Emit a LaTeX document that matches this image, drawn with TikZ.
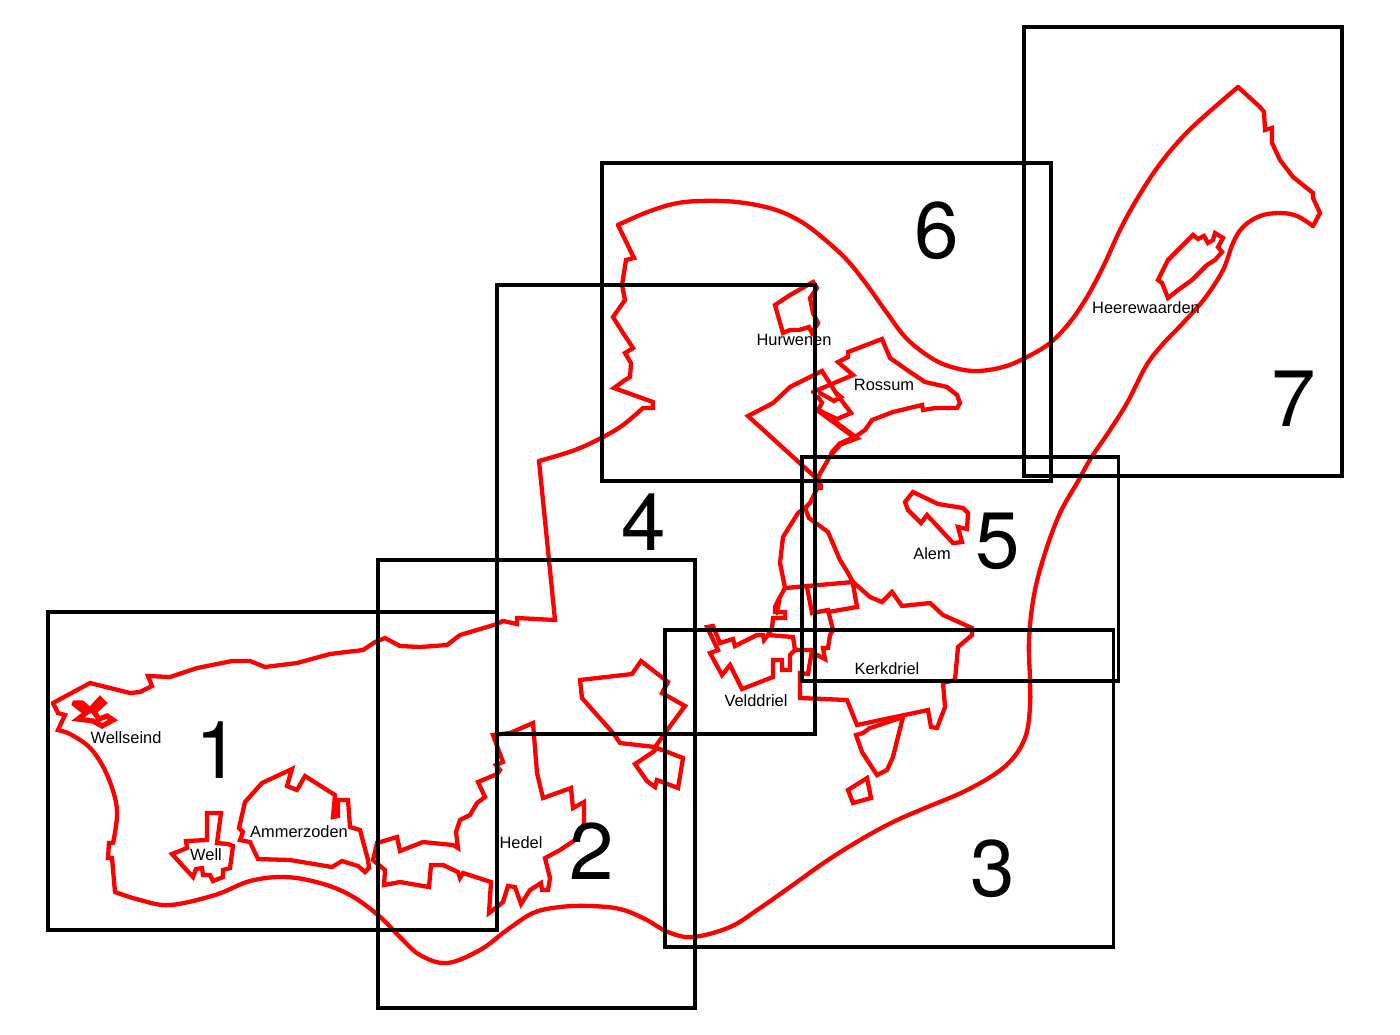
\documentclass[tikz,border=0pt]{standalone}
\usepackage{fontspec}
\setmainfont{Liberation Sans}
\newfontfamily\numfont{TeX Gyre Heros}
\begin{document}
\begin{tikzpicture}[x=0.5pt,y=-0.5pt,
  red line/.style={draw=red,line width=2.15pt,line join=miter,miter limit=3,line cap=round},
  sheet/.style={draw=black,line width=1.55pt},
  place/.style={inner sep=0pt,font=\fontsize{8.2}{10}\selectfont},
  sheetnum/.style={inner sep=0pt,font=\numfont\fontsize{40}{44}\selectfont}]
\useasboundingbox[fill=white] (0,0) rectangle (1400,1034);
% outer dike outline
\draw[red line] (53,703) -- (90,683) -- (130,693) -- (140,692) -- (152,686) -- (148,676) -- (170,677) -- (197,668) -- (232,661) -- (250,661) -- (265,667) -- (297,663) -- (330,654) -- (363,650) -- (375,642) -- (385,638) -- (400,646) -- (420,647) -- (447,645) -- (460,635) -- (497,624) -- (503,621) -- (517,624) -- (517,618) -- (555,620) -- (539,461);
\draw[red line] plot[smooth,tension=.6] coordinates {(539,461) (575,450) (603,437) (623,425) (643,408)} -- (653,408) -- (653,402) -- (614,388) -- (625,380) -- (630,377) -- (631,363) -- (625,353) -- (633,348) -- (623,333) -- (613,317) -- (625,300) -- (622,285) -- (626,260) -- (634,258) -- (618,225);
\draw[red line] plot[smooth,tension=.6] coordinates {(618,225) (645,213) (673,204) (700,201) (737,202) (773,209) (800,221) (823,238) (847,260) (867,285) (887,313) (907,339) (933,359) (955,368) (977,371) (1003,367) (1025,358) (1050,343) (1070,322) (1087,297) (1103,267) (1120,230) (1137,199) (1157,168) (1178,142) (1200,120) (1238,87)};
\draw[red line] (1238,87) -- (1260,107) -- (1264,112) -- (1265,130) -- (1272,128) -- (1272,143) -- (1280,160) -- (1293,177) -- (1313,193) -- (1313,198) -- (1320,213) -- (1313,226);
\draw[red line] plot[smooth,tension=.6] coordinates {(1313,226) (1297,216) (1280,213) (1260,216) (1243,227) (1233,243) (1223,270) (1205,298) (1183,323) (1162,345) (1146,366) (1127,403) (1108,433) (1091,458) (1077,483) (1060,513) (1045,553) (1034,595) (1029,640) (1030,680) (1030,707) (1026,735) (1014,757) (995,774) (963,792) (925,808) (893,822) (860,840) (825,862) (790,887) (760,908) (730,927) (693,937) (668,932) (645,919) (620,909) (590,906) (560,907) (533,913) (507,930) (480,950) (447,963) (420,955) (400,937) (378,915) (350,895) (320,883) (285,877) (250,881) (215,895) (170,905) (140,900) (115,892)};
\draw[red line] (115,892) -- (112,858) -- (108,858) -- (109,843) -- (113,843);
\draw[red line] plot[smooth,tension=.6] coordinates {(113,843) (117,810) (108,777) (92,750) (72,735) (58,730)} -- (65,715) -- (58,713) -- (53,703);
% Wellseind
\draw[red line,line width=2.6pt] (73,703) -- (82,703) -- (90,710) -- (100,699) -- (104,703) -- (94,712) -- (99,719) -- (107,716) -- (113,720) -- (102,726) -- (93,721) -- (78,719) -- (86,713) -- cycle;
% Well
\draw[red line] (172,854) -- (187,848) -- (186,841) -- (207,840) -- (207,813) -- (221,813) -- (217,843) -- (228,844) -- (233,846) -- (230,868) -- (223,870) -- (223,877) -- (213,881) -- (210,875) -- (203,875) -- (202,868) -- (196,869) -- (193,877) -- cycle;
% Ammerzoden
\draw[red line] (239,828) -- (245,802) -- (262,783) -- (292,769) -- (287,786) -- (297,790) -- (305,776) -- (335,795) -- (333,817) -- (338,816) -- (338,800) -- (348,800) -- (350,827) -- (360,830) -- (368,860) -- (369,868) -- (365,872) -- (358,866) -- (342,861) -- (332,867) -- (290,860) -- (258,859) -- (250,842) -- (240,840) -- (243,832) -- cycle;
% Hedel
\draw[red line] (493,735) -- (510,733) -- (533,723) -- (537,773) -- (543,798) -- (571,788) -- (573,808) -- (584,802) -- (584,823) -- (578,838) -- (560,850) -- (545,858) -- (550,878) -- (548,890) -- (542,890) -- (541,883) -- (530,890) -- (521,904) -- (515,887) -- (508,886) -- (503,902) -- (497,907) -- (489,913) -- (491,882) -- (463,873) -- (460,878) -- (458,872) -- (443,865) -- (431,865) -- (429,887) -- (400,882) -- (384,885) -- (385,870) -- (373,860) -- (377,843) -- (397,837) -- (400,851) -- (423,842) -- (453,845) -- (458,848) -- (456,832) -- (460,820) -- (470,815) -- (477,803) -- (485,797) -- (478,782) -- (497,774) -- (500,770) -- (496,765) -- (503,762) -- cycle;
% polygons in sheet 4
\draw[red line] (580,680) -- (632,674) -- (641,661) -- (668,682) -- (662,693) -- (685,706) -- (665,733) -- (655,747) -- (620,743) -- (613,733) -- (582,698) -- cycle;
\draw[red line] (653,752) -- (635,764) -- (647,781) -- (655,787) -- (657,780) -- (678,788) -- (683,758) -- (657,748) -- cycle;
% Velddriel
\draw[red line] (707,627) -- (713,626) -- (720,643) -- (733,639) -- (735,646) -- (757,635) -- (763,635) -- (764,640) -- (768,635) -- (793,637) -- (795,650) -- (790,655) -- (790,670) -- (782,670) -- (782,660) -- (773,660) -- (773,677) -- (742,689) -- (730,665) -- (722,675) -- (710,653) -- (718,650) -- cycle;
% Kerkdriel
\draw[red line] (768,635) -- (772,628) -- (773,618) -- (785,618) -- (785,612) -- (775,612) -- (775,607) -- (780,597) -- (785,588) -- (853,582) -- (870,597) -- (882,602) -- (892,592) -- (902,606) -- (930,603) -- (943,615) -- (972,628) -- (972,635) -- (958,647) -- (955,680) -- (943,683) -- (945,707) -- (937,728) -- (931,727) -- (928,710) -- (857,725) -- (847,700) -- (800,698) -- (800,673) -- (808,674) -- (812,650) -- (795,650);
\draw[red line,line width=1.6pt] (777,614) -- (780,600);
\draw[red line] (807,587) -- (812,613) -- (828,610) -- (833,630) -- (830,635) -- (828,648) -- (823,648) -- (825,659) -- (813,653) -- (812,650);
\draw[red line] (853,584) -- (857,607) -- (828,612);
% north loop to Rossum
\draw[red line] (785,588) -- (780,563) -- (783,537) -- (798,513) -- (805,508) -- (810,503) -- (820,483) -- (818,477) -- (832,453) -- (843,442) -- (855,437) -- (865,430) -- (872,420) -- (893,412) -- (922,405) -- (923,410) -- (935,408) -- (945,408) -- (957,408) -- (960,403) -- (957,395) -- (947,387) -- (925,382) -- (910,372) -- (890,358) -- (882,339) -- (848,352) -- (848,357) -- (838,362) -- (853,375) -- (813,392);
\draw[red line] (805,508) -- (809,518) -- (828,532) -- (840,560) -- (848,573) -- (853,582);
% Rossum
\draw[red line] (815,477) -- (748,416) -- (773,403) -- (790,387) -- (822,371) -- (836,393) -- (841,397) -- (834,401) -- (820,393);
\draw[red line] (836,393) -- (851,413) -- (837,419) -- (818,410) -- (822,403) -- (818,397);
\draw[red line,line width=2.8pt] (818,410) -- (856,438) -- (840,444) -- (832,453);
\fill[red] (817,484) rectangle (823,490);
% Hurwenen
\draw[red line] (775,305) -- (790,295) -- (813,282) -- (817,288) -- (810,298) -- (813,313) -- (818,323) -- (812,333) -- (809,327) -- (799,330) -- (790,330) -- (783,333) -- cycle;
% lens, small square, Alem, Heerewaarden
\draw[red line] (856,735) -- (863,733) -- (870,728) -- (903,717) -- (893,757) -- (887,770) -- (877,775) -- (862,752) -- cycle;
\draw[red line] (848,790) -- (867,778) -- (871,798) -- (853,803) -- cycle;
\draw[red line] (905,502) -- (913,492) -- (938,504) -- (963,508) -- (968,513) -- (967,529) -- (958,527) -- (962,542) -- (953,543) -- (927,515) -- (921,523) -- (908,510) -- cycle;
\draw[red line] (1158,280) -- (1168,260) -- (1193,235) -- (1198,239) -- (1204,236) -- (1208,243) -- (1213,240) -- (1215,233) -- (1223,238) -- (1218,247) -- (1222,252) -- (1215,260) -- (1207,265) -- (1192,280) -- (1178,290) -- (1168,298) -- (1162,283) -- cycle;
% sheets
\draw[sheet] (48,612) rectangle (497,930);
\draw[sheet] (378,560) rectangle (695,1008);
\draw[sheet] (665,630) rectangle (1113.5,947);
\draw[sheet] (497,285) rectangle (815,734);
\draw[sheet] (802,457) rectangle (1118.5,681);
\draw[sheet] (602,163) rectangle (1051,481);
\draw[sheet] (1024,27) rectangle (1342,476);
% sheet numbers
\node[sheetnum] (n1) at (218,750) {1};
\node[sheetnum] (n2) at (592,851) {2};
\node[sheetnum] (n3) at (993,869) {3};
\node[sheetnum] (n4) at (644,522) {4};
\node[sheetnum] (n5) at (998,541) {5};
\node[sheetnum] (n6) at (937,231) {6};
\node[sheetnum] (n7) at (1294,399) {7};
% place names
\node[place] (p1) at (126,738) {Wellseind};
\node[place] (p2) at (206,855) {Well};
\node[place] (p3) at (299,832) {Ammerzoden};
\node[place] (p4) at (521,843) {Hedel};
\node[place] (p5) at (756,701) {Velddriel};
\node[place] (p6) at (887,669) {Kerkdriel};
\node[place] (p7) at (932,554) {Alem};
\node[place] (p8) at (884,385) {Rossum};
\node[place] (p9) at (794,340) {Hurwenen};
\node[place] (p10) at (1146,308) {Heerewaarden};
\end{tikzpicture}
\end{document}
